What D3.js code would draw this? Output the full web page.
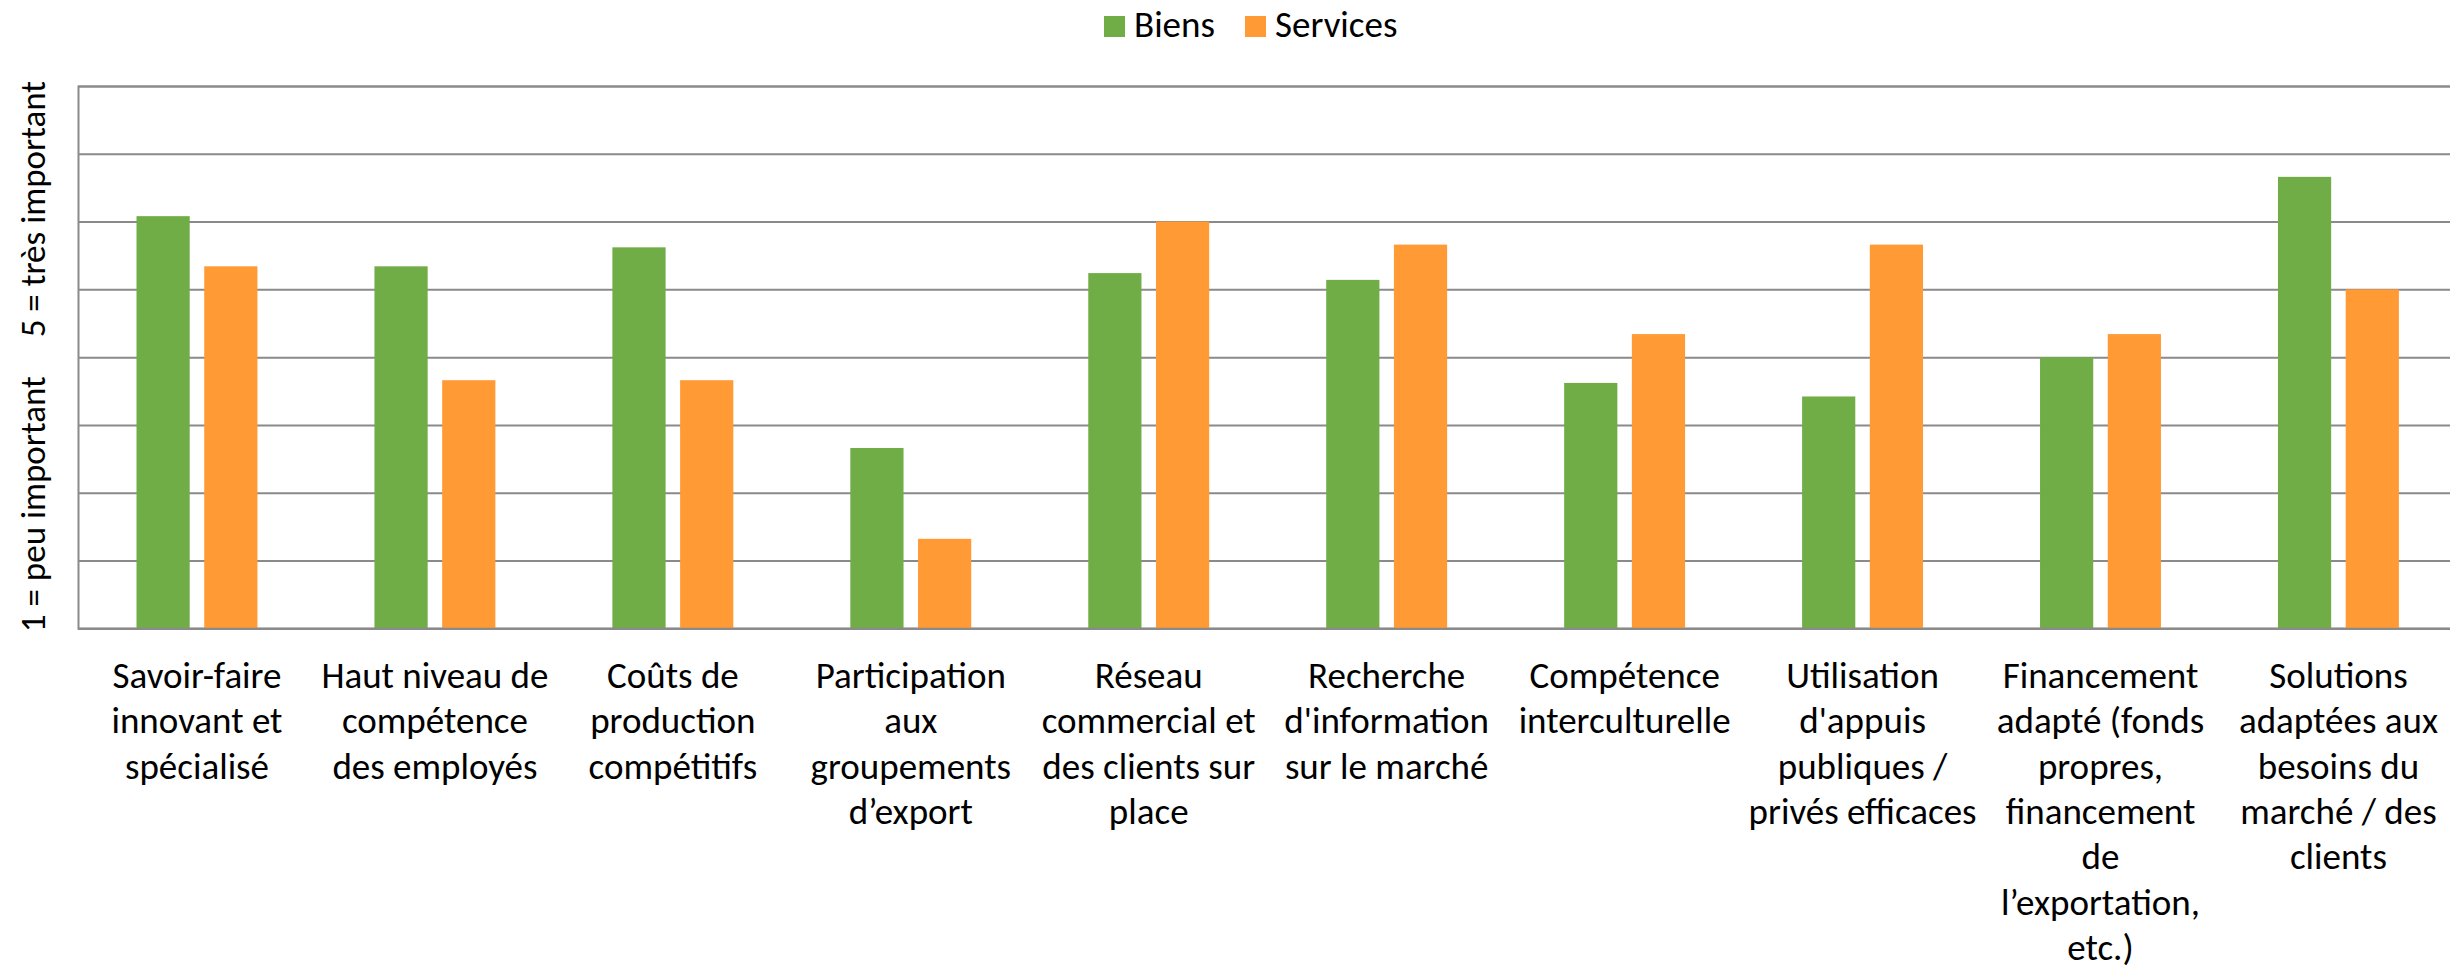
<!DOCTYPE html>
<html>
<head>
<meta charset="utf-8">
<script src="https://cdn.jsdelivr.net/npm/d3@7"></script>
<style>
  html, body { margin: 0; padding: 0; background: #fff; }
  svg { display: block; }
  text { font-family: Carlito, Calibri, Lato, "Open Sans", sans-serif; fill: #000; }
</style>
</head>
<body>
<svg id="chart" width="2450" height="966"></svg>
<script>
// ---- data ----
const categories = [
  "Savoir-faire innovant et spécialisé",
  "Haut niveau de compétence des employés",
  "Coûts de production compétitifs",
  "Participation aux groupements d’export",
  "Réseau commercial et des clients sur place",
  "Recherche d'information sur le marché",
  "Compétence interculturelle",
  "Utilisation d'appuis publiques / privés efficaces",
  "Financement adapté (fonds propres, financement de l’exportation, etc.)",
  "Solutions adaptées aux besoins du marché / des clients"
];
const tickLabels = [
  ["Savoir-faire", "innovant et", "spécialisé"],
  ["Haut niveau de", "compétence", "des employés"],
  ["Coûts de", "production", "compétitifs"],
  ["Participation", "aux", "groupements", "d’export"],
  ["Réseau", "commercial et", "des clients sur", "place"],
  ["Recherche", "d'information", "sur le marché"],
  ["Compétence", "interculturelle"],
  ["Utilisation", "d'appuis", "publiques /", "privés efficaces"],
  ["Financement", "adapté (fonds", "propres,", "financement", "de", "l’exportation,", "etc.)"],
  ["Solutions", "adaptées aux", "besoins du", "marché / des", "clients"]
];
const seriesNames = ["Biens", "Services"];
const biens    = [4.04, 3.67, 3.81, 2.33, 3.62, 3.57, 2.81, 2.71, 3.00, 4.33];
const services = [3.67, 2.83, 2.83, 1.66, 4.00, 3.83, 3.17, 3.83, 3.17, 3.50];
const yTicks = [1, 1.5, 2, 2.5, 3, 3.5, 4, 4.5, 5];
const yTitles = ["1 = peu important", "5 = très important"];
const colors = ["#70ad47", "#ff9a35"];

// ---- layout ----
const plotLeft = 78, plotTop = 86, plotBottom = 628.3;
const bandStep = 237.94;
const plotRight = plotLeft + bandStep * categories.length;
const gridColor = "#8a8a8a";

const svg = d3.select("#chart");

const x0 = d3.scaleBand().domain(categories).range([plotLeft, plotRight]).paddingInner(0).paddingOuter(0);
const y = d3.scaleLinear().domain([1, 5]).range([plotBottom, plotTop]);

const bw = x0.bandwidth();
const barW = bw * 0.2236;
const gap = bw * 0.061;
const x1 = d3.scaleOrdinal().domain(seriesNames).range([bw / 2 - gap / 2 - barW, bw / 2 + gap / 2]);

// gridlines + left axis line
const yAxis = d3.axisLeft(y).tickValues(yTicks).tickSize(-(plotRight - plotLeft)).tickFormat("");
const gy = svg.append("g").attr("transform", `translate(${plotLeft},0)`).call(yAxis);
gy.selectAll(".tick line").attr("stroke", gridColor).attr("stroke-width", 2);
gy.select(".domain").attr("stroke", gridColor).attr("stroke-width", 2);

// bars
const rows = categories.map((c, i) => ({ cat: c, vals: [biens[i], services[i]] }));
const groups = svg.append("g").selectAll("g").data(rows).join("g")
  .attr("transform", d => `translate(${x0(d.cat)},0)`);
groups.selectAll("rect")
  .data(d => d.vals.map((v, k) => ({ key: seriesNames[k], v, k })))
  .join("rect")
  .attr("x", d => x1(d.key))
  .attr("width", barW)
  .attr("y", d => y(d.v))
  .attr("height", d => y(1) - y(d.v))
  .attr("fill", d => colors[d.k]);

// bottom axis line
const xAxis = d3.axisBottom(x0).tickSize(0).tickFormat("");
const gx = svg.append("g").attr("transform", `translate(0,${plotBottom})`).call(xAxis);
gx.select(".domain").attr("stroke", gridColor).attr("stroke-width", 2);

// category labels
const labelSize = 37, lineH = 45.3, firstBase = 688;
svg.append("g").selectAll("text").data(categories).join("text")
  .attr("text-anchor", "middle")
  .attr("font-size", labelSize)
  .attr("transform", d => `translate(${x0(d) + bw / 2},${firstBase})`)
  .each(function (d, i) {
    d3.select(this).selectAll("tspan").data(tickLabels[i]).join("tspan")
      .attr("x", 0).attr("y", (t, j) => j * lineH).text(t => t);
  });

// y titles (rotated)
const titleSize = 35;
const yMid = (plotTop + plotBottom) / 2;
svg.append("text").attr("font-size", titleSize).attr("text-anchor", "middle")
  .attr("transform", `translate(45,${yMid + 147}) rotate(-90)`).text(yTitles[0]);
svg.append("text").attr("font-size", titleSize).attr("text-anchor", "middle")
  .attr("transform", `translate(45,${yMid - 148}) rotate(-90)`).text(yTitles[1]);

// legend
const legend = svg.append("g");
const legendItems = [
  { name: seriesNames[0], color: colors[0], sx: 1104, tx: 1134 },
  { name: seriesNames[1], color: colors[1], sx: 1245, tx: 1275 }
];
legendItems.forEach(it => {
  legend.append("rect").attr("x", it.sx).attr("y", 16).attr("width", 21).attr("height", 21).attr("fill", it.color);
  legend.append("text").attr("x", it.tx).attr("y", 37).attr("font-size", 37).text(it.name);
});
</script>
</body>
</html>
